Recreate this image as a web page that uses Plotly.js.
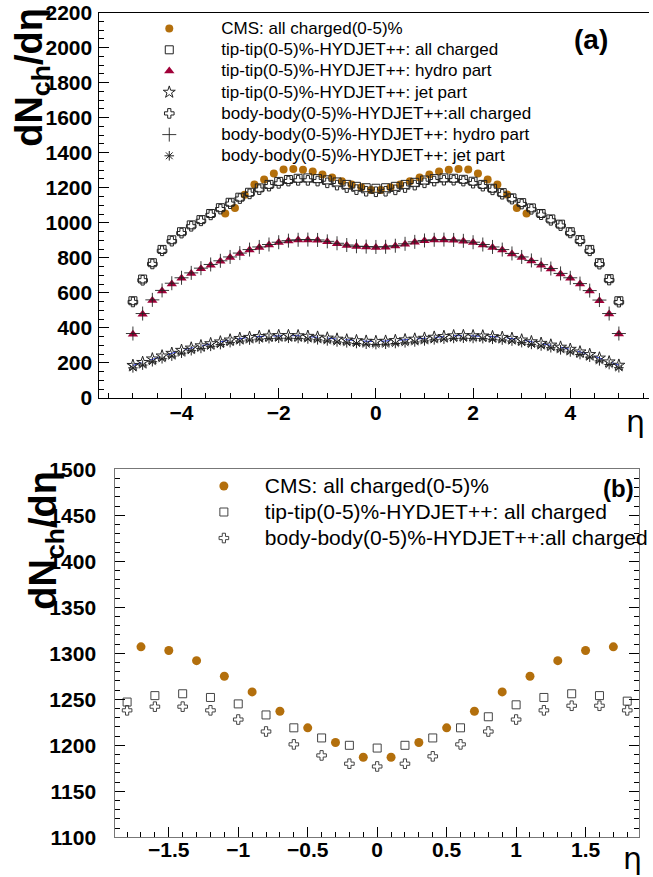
<!DOCTYPE html>
<html><head><meta charset="utf-8">
<script src="https://cdn.plot.ly/plotly-3.0.1.min.js"></script>
<style>html,body{margin:0;padding:0;background:#fff}#c{width:653px;height:877px}</style>
</head><body><div id="c"></div>
<script>
// eta grid of the model points
const eta = [-5.0,-4.8,-4.6,-4.4,-4.2,-4.0,-3.8,-3.6,-3.4,-3.2,-3.0,-2.8,-2.6,-2.4,-2.2,-2.0,-1.8,-1.6,-1.4,-1.2,-1.0,-0.8,-0.6,-0.4,-0.2,0.0,0.2,0.4,0.6,0.8,1.0,1.2,1.4,1.6,1.8,2.0,2.2,2.4,2.6,2.8,3.0,3.2,3.4,3.6,3.8,4.0,4.2,4.4,4.6,4.8,5.0];
// CMS data eta points
const etaCMS = [-3.1,-2.9,-2.7,-2.5,-2.3,-2.1,-1.9,-1.7,-1.5,-1.3,-1.1,-0.9,-0.7,-0.5,-0.3,-0.1,0.1,0.3,0.5,0.7,0.9,1.1,1.3,1.5,1.7,1.9,2.1,2.3,2.5,2.7,2.9,3.1];
const cms = [1053,1085,1160,1219,1247,1281,1304,1307,1303,1292,1275,1258,1237,1219,1203,1187,1187,1203,1219,1237,1258,1275,1292,1303,1307,1304,1281,1247,1219,1162,1085,1053];
// tip-tip(0-5)% HYDJET++
const tipAll = [555,679,772,848,903,949,988,1018,1053,1086,1117,1146,1174,1199,1219,1236,1247,1254,1256,1252,1245,1233,1219,1208,1200,1197,1200,1208,1219,1231,1244,1252,1256,1254,1248,1237,1219,1197,1172,1142,1115,1085,1053,1022,992,949,904,848,772,681,555];
const tipHydro = [364,478,556,611,651,683,710,738,758,780,802,824,845,859,873,887,896,901,902,900,892,880,870,864,862,859,860,867,878,889,897,901,902,900,895,887,873,859,844,822,802,782,758,736,708,683,650,610,555,479,365];
const tipJet = [186,203,223,240,255,272,285,298,310,320,331,340,346,351,354,356,356,355,352,347,342,336,331,327,324,322,324,328,332,336,341,347,351,355,356,355,354,350,346,340,331,321,312,302,290,278,263,248,228,206,187];
// body-body(0-5)% HYDJET++
const bodyAll = [548,672,765,840,895,941,980,1011,1045,1078,1109,1138,1165,1189,1209,1225,1238,1242,1242,1238,1228,1215,1201,1189,1180,1177,1180,1188,1201,1215,1228,1238,1243,1243,1238,1226,1209,1188,1163,1135,1107,1077,1046,1014,984,942,896,840,764,673,547];
const bodyHydro = [368,482,560,614,655,686,714,741,762,783,805,827,847,862,876,889,898,903,904,902,894,883,873,866,864,862,863,869,880,891,899,903,904,902,897,889,876,862,847,825,805,785,761,739,711,686,653,613,559,482,368];
const bodyJet = [172,188,207,224,239,256,270,283,295,305,316,325,331,336,339,341,341,340,337,332,326,320,315,311,307,305,307,311,315,320,326,332,336,340,341,340,339,335,331,325,316,306,297,287,275,263,248,233,212,191,173];

const names = ["CMS: all charged(0-5)%","tip-tip(0-5)%-HYDJET++: all charged","tip-tip(0-5)%-HYDJET++: hydro part","tip-tip(0-5)%-HYDJET++: jet part","body-body(0-5)%-HYDJET++:all charged","body-body(0-5)%-HYDJET++: hydro part","body-body(0-5)%-HYDJET++: jet part"];

// zoomed panel (b) shows only |eta| < 1.85
const ZMAX = 1.85;
const sel = (xs, ys) => { const o = {x:[], y:[]}; xs.forEach((v,i)=>{ if (Math.abs(v) < ZMAX) { o.x.push(v); o.y.push(ys[i]); } }); return o; };
const bCms = sel(etaCMS, cms), bTip = sel(eta, tipAll), bBody = sel(eta, bodyAll);

const CMSC = "#b36f0c", TRC = "#a00038", BLK = "#222";
const W = 653, H = 877;
const px = v => v / W, py = v => 1 - v / H;
const nmA = s => '<span style="font-size:17px">' + s + '</span>';
const nmB = s => '<span style="font-size:21px">' + s + '</span>';

const traces = [
  {x: eta, y: tipJet, mode:'lines', line:{color:'#2233dd', dash:'dash', width:1}, showlegend:false, hoverinfo:'skip', xaxis:'x', yaxis:'y'},
  {x: etaCMS, y: cms, name: nmA(names[0]), mode:'markers', marker:{symbol:'circle', size:8, color:CMSC}, xaxis:'x', yaxis:'y'},
  {x: eta, y: tipAll, name: nmA(names[1]), mode:'markers', marker:{symbol:'square-open', size:8, color:BLK, line:{width:1}}, xaxis:'x', yaxis:'y'},
  {x: eta, y: tipHydro, name: nmA(names[2]), mode:'markers', marker:{symbol:'triangle-up', size:9, color:TRC}, xaxis:'x', yaxis:'y'},
  {x: eta, y: tipJet, name: nmA(names[3]), mode:'markers', marker:{symbol:'star-open', size:9, color:BLK, line:{width:1}}, xaxis:'x', yaxis:'y'},
  {x: eta, y: bodyAll, name: nmA(names[4]), mode:'markers', marker:{symbol:'cross-open', size:8, color:BLK, line:{width:1}}, xaxis:'x', yaxis:'y'},
  {x: eta, y: bodyHydro, name: nmA(names[5]), mode:'markers', marker:{symbol:'cross-thin-open', size:10, color:BLK, line:{width:0.9, color:BLK}}, xaxis:'x', yaxis:'y'},
  {x: eta, y: bodyJet, name: nmA(names[6]), mode:'markers', marker:{symbol:'asterisk-open', size:8, color:BLK, line:{width:1, color:BLK}}, xaxis:'x', yaxis:'y'},
  // panel (b)
  {x: bCms.x, y: bCms.y, name: nmB(names[0]), mode:'markers', marker:{symbol:'circle', size:9, color:CMSC}, xaxis:'x2', yaxis:'y2', legend:'legend2'},
  {x: bTip.x, y: bTip.y, name: nmB(names[1]), mode:'markers', marker:{symbol:'square-open', size:8, color:'#444', line:{width:1}}, xaxis:'x2', yaxis:'y2', legend:'legend2'},
  {x: bBody.x, y: bBody.y, name: nmB(names[4]), mode:'markers', marker:{symbol:'cross-open', size:8, color:'#444', line:{width:1}}, xaxis:'x2', yaxis:'y2', legend:'legend2'}
];

const tickFont = {family:'Liberation Sans, Arial, sans-serif', size:21, color:'#000', weight:'bold'};
const axBase = {showgrid:false, zeroline:false, showline:true, linecolor:'#000', linewidth:1, ticks:'inside', tickcolor:'#000', ticklen:10, tickwidth:1, tickfont:tickFont};
const titleFont = {size:38, weight:'bold', family:'Liberation Sans, Arial, sans-serif', color:'#000'};

const layout = {
  width: W, height: H, margin:{l:0,r:0,t:0,b:0}, paper_bgcolor:'#fff', plot_bgcolor:'#fff',
  showlegend: true,
  font:{family:'Liberation Sans, Arial, sans-serif', color:'#000'},
  xaxis: Object.assign({}, axBase, {domain:[px(100), 1], range:[-5.69, 5.62], dtick:2, tick0:0, mirror:true, anchor:'y', ticklabelstandoff:-4,
    minor:{dtick:0.5, ticklen:5, ticks:'inside', tickcolor:'#000'}}),
  yaxis: Object.assign({}, axBase, {domain:[py(398), py(12.5)], range:[0, 2200], dtick:200, tick0:0, anchor:'x', ticklabelstandoff:2,
    minor:{dtick:50, ticklen:5, ticks:'inside', tickcolor:'#000'}}),
  xaxis2: Object.assign({}, axBase, {domain:[px(116), px(643)], range:[-1.885, 1.885], dtick:0.5, tick0:0, mirror:true, anchor:'y2', ticklabelstandoff:-7,
    linecolor:'#777', minor:{dtick:0.1, ticklen:5, ticks:'inside', tickcolor:'#000'}}),
  yaxis2: Object.assign({}, axBase, {domain:[py(837.3), py(469.3)], range:[1100, 1500], dtick:50, tick0:1100, mirror:'ticks', anchor:'x2', ticklabelstandoff:14,
    linecolor:'#777', minor:{dtick:10, ticklen:5, ticks:'inside', tickcolor:'#000'}}),
  legend: {x: px(118), y: py(13), xanchor:'left', yanchor:'top', bgcolor:'rgba(0,0,0,0)', borderwidth:0, itemwidth:94,
    font:{size:14, family:'Liberation Sans, Arial, sans-serif', color:'#000'}, tracegroupgap:0},
  legend2: {x: px(184), y: py(468), xanchor:'left', yanchor:'top', bgcolor:'rgba(0,0,0,0)', borderwidth:0, itemwidth:72,
    font:{size:17.7, family:'Liberation Sans, Arial, sans-serif', color:'#000'}, tracegroupgap:0},
  annotations: [
    {xref:'paper', yref:'paper', x:px(32), y:py(77), text:'dN<sub>ch</sub>/dη', textangle:-90, showarrow:false, xanchor:'center', yanchor:'middle', font:titleFont},
    {xref:'paper', yref:'paper', x:px(46), y:py(540), text:'dN<sub>ch</sub>/dη', textangle:-90, showarrow:false, xanchor:'center', yanchor:'middle', font:titleFont},
    {xref:'paper', yref:'paper', x:px(639), y:py(421), text:'η', showarrow:false, xanchor:'center', yanchor:'middle',
      font:{size:30, family:'DejaVu Sans, sans-serif', color:'#000'}},
    {xref:'paper', yref:'paper', x:px(636), y:py(858), text:'η', showarrow:false, xanchor:'center', yanchor:'middle',
      font:{size:30, family:'DejaVu Sans, sans-serif', color:'#000'}},
    {xref:'paper', yref:'paper', x:px(595), y:py(40), text:'(a)', showarrow:false, xanchor:'center', yanchor:'middle',
      font:{size:28, weight:'bold', family:'Liberation Sans, Arial, sans-serif', color:'#000'}},
    {xref:'paper', yref:'paper', x:px(622), y:py(488), text:'(b)', showarrow:false, xanchor:'center', yanchor:'middle',
      font:{size:24, weight:'bold', family:'Liberation Sans, Arial, sans-serif', color:'#000'}}
  ]
};

Plotly.newPlot('c', traces, layout, {staticPlot:true, displayModeBar:false});
</script>
</body></html>
